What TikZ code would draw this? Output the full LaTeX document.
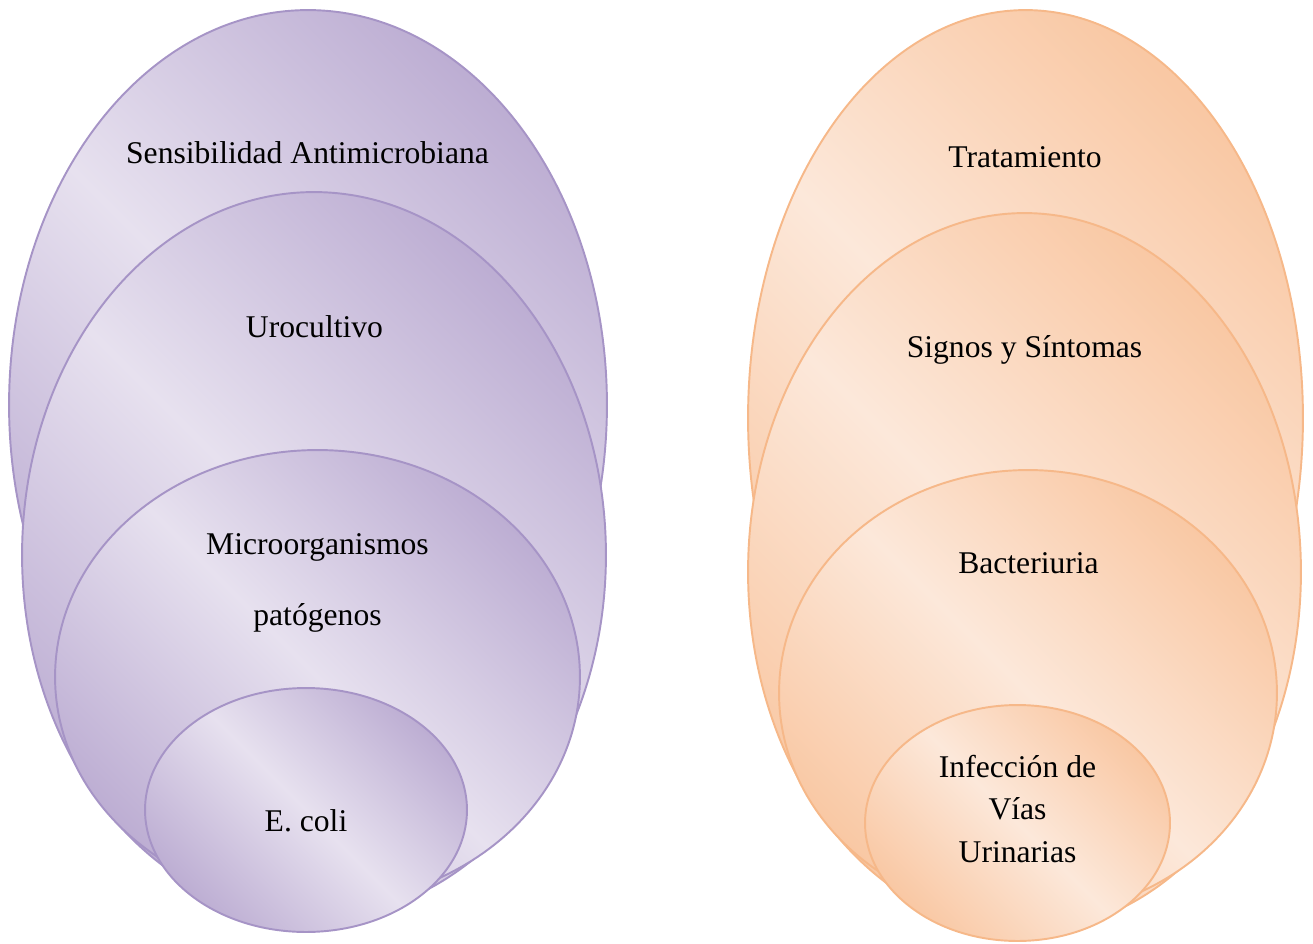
\documentclass[tikz,border=0pt]{standalone}
\usepackage{fontspec}
\setmainfont{Liberation Serif}
\usetikzlibrary{shapes.geometric}
\definecolor{pdark}{RGB}{189,174,211}
\definecolor{plight}{RGB}{231,225,239}
\definecolor{pline}{RGB}{166,148,198}
\definecolor{odark}{RGB}{249,200,164}
\definecolor{olight}{RGB}{252,232,218}
\definecolor{oline}{RGB}{246,184,137}
\begin{document}
\begin{tikzpicture}[x=0.02cm,y=-0.02cm,
  ellbase/.style={ellipse, inner sep=0pt, outer sep=0pt, line width=1.1pt},
  purp/.style={ellbase, draw=pline, top color=pdark, bottom color=pdark, middle color=plight, shading angle=-45},
  oran/.style={ellbase, draw=oline, top color=odark, bottom color=odark, middle color=olight, shading angle=-45},
  lbl/.style={font=\fontsize{18}{24}\selectfont, align=center, anchor=base, inner sep=0pt}]
\useasboundingbox (0,0) rectangle (1313,944);
% left group
\node[purp, minimum width=11.96cm, minimum height=15.8cm] (a1) at (308,405) {};
\node[purp, minimum width=11.68cm, minimum height=14.52cm] (a2) at (314,555) {};
\node[purp, minimum width=10.5cm, minimum height=9.08cm] (a3) at (317.5,677) {};
\node[purp, minimum width=6.44cm, minimum height=4.88cm] (a4) at (306,810) {};
\node[lbl] (ta1) at (307.5,163) {Sensibilidad Antimicrobiana};
\node[lbl] (ta2) at (314.5,337) {Urocultivo};
\node[lbl] (ta3) at (317.5,625) {Microorganismos\\[16pt]patógenos};
\node[lbl] (ta4) at (306,831) {E. coli};
% right group
\node[oran, minimum width=11.1cm, minimum height=16.32cm] (b1) at (1025.5,418) {};
\node[oran, minimum width=11.06cm, minimum height=14.36cm] (b2) at (1024.5,572) {};
\node[oran, minimum width=9.96cm, minimum height=8.92cm] (b3) at (1028,693) {};
\node[oran, minimum width=6.1cm, minimum height=4.72cm] (b4) at (1017.5,823) {};
\node[lbl] (tb1) at (1025,167) {Tratamiento};
\node[lbl] (tb2) at (1024.5,357) {Signos y Síntomas};
\node[lbl] (tb3) at (1028.5,573) {Bacteriuria};
\node[lbl] (tb4) at (1017.5,862) {Infección de\\Vías\\Urinarias};
\end{tikzpicture}
\end{document}
